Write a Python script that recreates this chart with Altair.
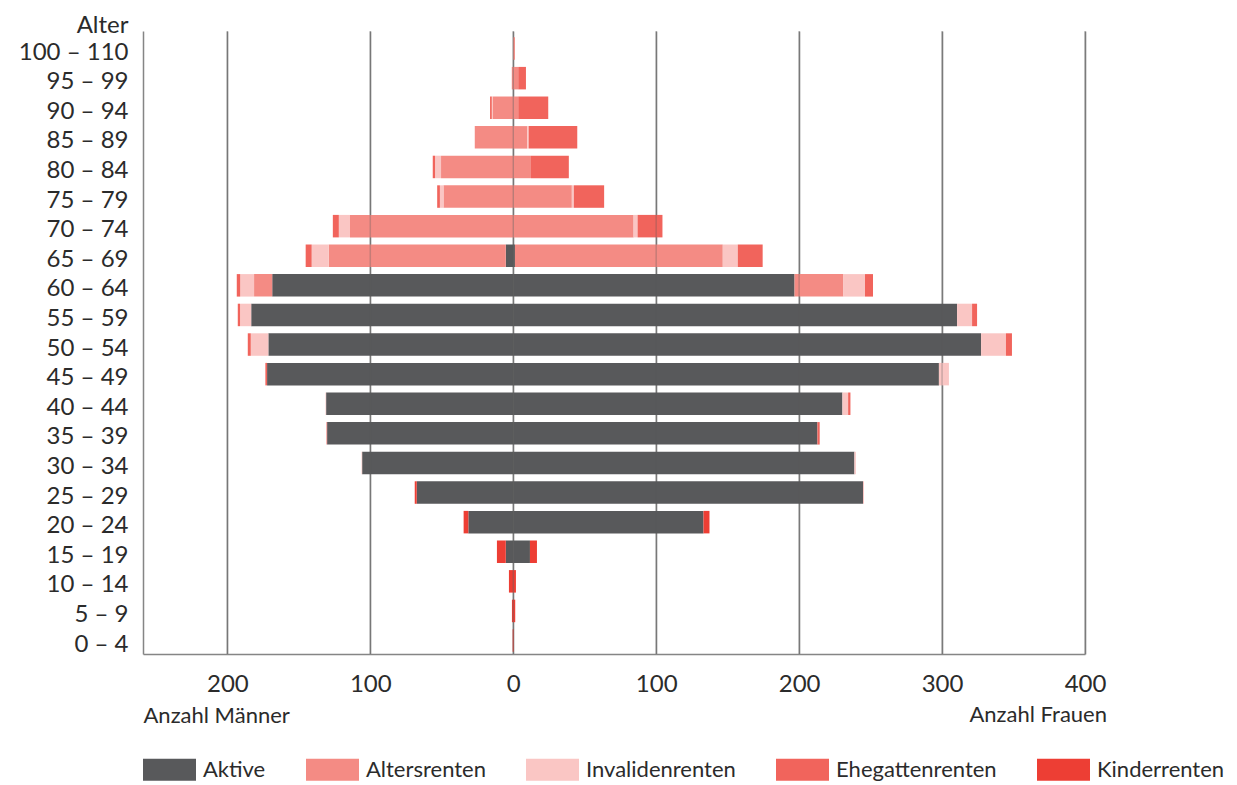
import altair as alt
import pandas as pd

ages = ["100 – 110", "95 – 99", "90 – 94", "85 – 89", "80 – 84", "75 – 79", "70 – 74",
        "65 – 69", "60 – 64", "55 – 59", "50 – 54", "45 – 49", "40 – 44", "35 – 39",
        "30 – 34", "25 – 29", "20 – 24", "15 – 19", "10 – 14", "5 – 9", "0 – 4"]
categories = ["Aktive", "Altersrenten", "Invalidenrenten", "Ehegattenrenten", "Kinderrenten"]
colors = ["#58595b", "#f48b84", "#fac6c4", "#f1645c", "#ed3e34"]
grid_values = [-200, -100, 0, 100, 200, 300, 400]

men_aktive = [0, 0, 0, 0, 0, 0, 0, 5.2, 168.6, 183.3, 171.3, 172.2, 130.9, 130.2, 105.7, 67.5, 31.4, 5.2, 0, 0, 0]
men_alters = [0, 1, 14.5, 26.9, 50.5, 48.8, 114.2, 123.8, 12.7, 0, 0, 0, 0, 0, 0, 0, 0, 0, 0, 0, 0]
men_invaliden = [0, 0, 0.5, 0, 4.2, 2.5, 7.8, 12, 9.7, 7.8, 12.3, 0, 0.4, 0, 0.4, 0, 0, 0, 0, 0, 0]
men_ehegatten = [0, 0, 1.2, 0, 1.6, 1.9, 4.2, 4.2, 2.4, 1.6, 2.1, 1.2, 0, 0.4, 0, 0, 0, 0, 0, 0, 0]
men_kinder = [0, 0, 0, 0, 0, 0, 0, 0, 0, 0, 0, 0, 0, 0, 0, 1.4, 3.3, 6.2, 3.0, 0.9, 0.4]

women_aktive = [0, 0, 0, 0, 0, 0, 0, 1.2, 196.8, 310.5, 327.3, 297.8, 230.3, 212.8, 238.7, 244.7, 133.1, 11.7, 0, 0, 0]
women_alters = [1.2, 3.5, 3.5, 9.8, 12.4, 41, 84.2, 145.4, 34.2, 0, 0, 0, 0, 0, 0, 0, 0, 0, 0, 0, 0]
women_invaliden = [0, 0, 0, 1, 0, 1.4, 2.8, 10.5, 15.1, 10.5, 17.4, 7, 4, 0, 1, 0.7, 0, 0, 0, 0, 0]
women_ehegatten = [0, 5.4, 21, 34, 26.5, 21.2, 17.4, 17.4, 5.6, 3.5, 4.2, 0, 1.6, 1.6, 0, 0, 0, 0, 0, 0, 0]
women_kinder = [0, 0, 0, 0, 0, 0, 0, 0, 0, 0, 0, 0, 0, 0, 0, 0, 4.2, 4.9, 1.9, 1.4, 0.4]

men = [men_aktive, men_alters, men_invaliden, men_ehegatten, men_kinder]
women = [women_aktive, women_alters, women_invaliden, women_ehegatten, women_kinder]

rows = []
for ci, cat in enumerate(categories):
    for ai, age in enumerate(ages):
        if men[ci][ai] > 0:
            rows.append({"age": age, "category": cat, "value": -men[ci][ai], "ord": ci})
        if women[ci][ai] > 0:
            rows.append({"age": age, "category": cat, "value": women[ci][ai], "ord": ci})
df = pd.DataFrame(rows)

FONT = "Lato"
TXT = "#2b2b2b"
x_scale = alt.Scale(domain=[-259, 400], nice=False, zero=False)

bars = alt.Chart(df).mark_bar().encode(
    x=alt.X("value:Q", scale=x_scale, stack="zero",
            axis=alt.Axis(values=grid_values, labelExpr="format(abs(datum.value), 'd')",
                          title="Anzahl Männer", titleAnchor="start", titleAlign="left",
                          titleX=0, titleY=68, titleBaseline="alphabetic",
                          titleFontSize=22, titleFontWeight="normal", titleColor=TXT,
                          labelFontSize=24, labelPadding=18, labelColor=TXT,
                          labelFlush=False, labelOverlap=False, ticks=False,
                          grid=True, gridColor="#858585", gridWidth=1.6,
                          domainColor="#858585", domainWidth=1.5)),
    y=alt.Y("age:N", sort=ages,
            scale=alt.Scale(paddingInner=0.24, paddingOuter=0.144, align=0.74),
            axis=alt.Axis(title="Alter", titleAngle=0, titleAlign="right", titleX=-15,
                          titleY=1, titleBaseline="alphabetic", titleFontSize=24,
                          titleFontWeight="normal", titleColor=TXT,
                          labelFontSize=24, labelPadding=15, labelColor=TXT, ticks=False,
                          labelOffset=4,
                          grid=False, domainColor="#858585", domainWidth=1.5)),
    color=alt.Color("category:N", scale=alt.Scale(domain=categories, range=colors),
                    legend=alt.Legend(title=None, orient="none", direction="horizontal",
                                      legendX=0, legendY=712, padding=0,
                                      symbolType="M-1,-0.415H1V0.415H-1Z", symbolSize=2809,
                                      symbolStrokeWidth=0, symbolOpacity=1,
                                      labelFontSize=22, labelFont=FONT, labelColor=TXT,
                                      labelOffset=7, labelLimit=400, columnPadding=40)),
    order=alt.Order("ord:Q"),
)

overlay = alt.Chart(pd.DataFrame({"value": grid_values})).mark_rule(
    color="#5a5a5a", opacity=0.3, strokeWidth=1.5
).encode(x=alt.X("value:Q", scale=x_scale))

frauen = alt.Chart(pd.DataFrame({"value": [400], "label": ["Anzahl Frauen"]})).mark_text(
    align="right", baseline="alphabetic", dx=22, fontSize=22, font=FONT, color=TXT
).encode(x=alt.X("value:Q", scale=x_scale), y=alt.value(691), text="label:N")

chart = alt.layer(bars, overlay, frauen).properties(
    width=942, height=623,
    padding={"left": 135, "top": 23, "right": 144, "bottom": 131},
    autosize=alt.AutoSizeParams(type="none"),
).configure_view(stroke=None).configure_axis(labelFont=FONT, titleFont=FONT)

chart.save("out.html", embed_options={"renderer": "svg", "actions": False})
